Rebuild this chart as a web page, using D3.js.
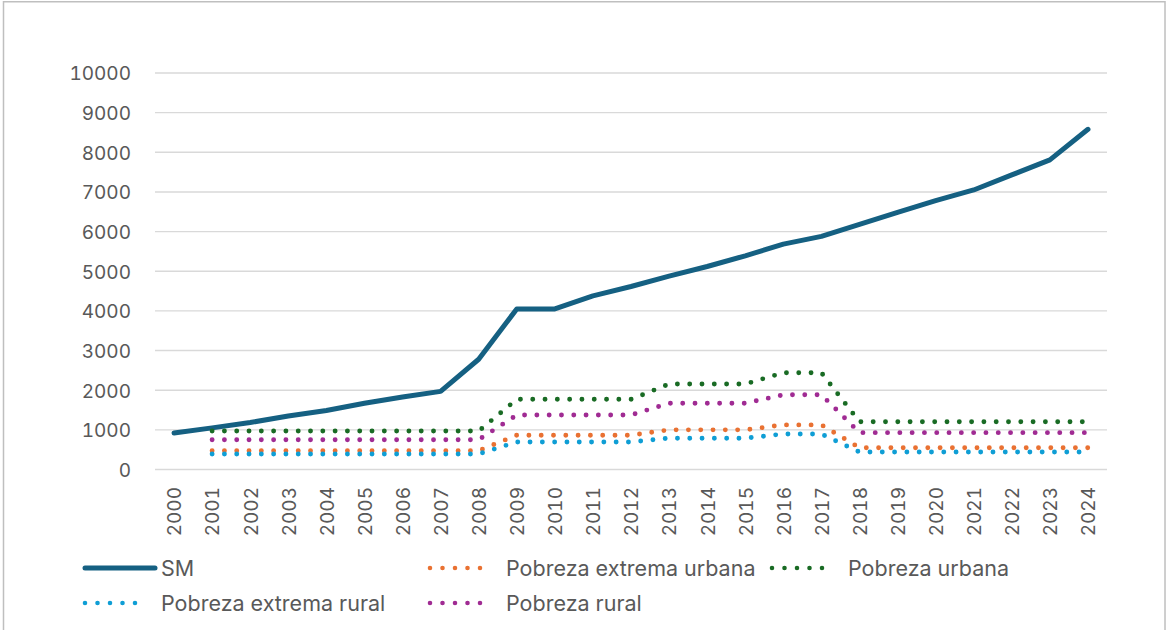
<!DOCTYPE html>
<html>
<head>
<meta charset="utf-8">
<script src="https://cdn.jsdelivr.net/npm/d3@7"></script>
<style>
  html, body { margin: 0; padding: 0; background: #ffffff; }
  svg { display: block; }
</style>
</head>
<body>
<svg id="chart" width="1169" height="630"></svg>
<script>
// Years on the category axis
const years = ["2000","2001","2002","2003","2004","2005","2006","2007","2008","2009","2010","2011","2012",
               "2013","2014","2015","2016","2017","2018","2019","2020","2021","2022","2023","2024"];

// Value-axis tick labels
const yTicks = [0, 1000, 2000, 3000, 4000, 5000, 6000, 7000, 8000, 9000, 10000];

// Salario mínimo (SM)
const sm = [920, 1050, 1185, 1350, 1490, 1670, 1830, 1970, 2780, 4050, 4050, 4380, 4615,
            4875, 5120, 5390, 5685, 5880, 6180, 6485, 6780, 7050, 7430, 7810, 8580];

// Poverty lines (no value for 2000)
const pobrezaExtremaUrbana = [null, 475, 475, 475, 475, 475, 475, 475, 475, 865, 865, 865, 865,
                              1000, 1000, 1000, 1125, 1125, 550, 550, 550, 550, 550, 550, 550];
const pobrezaUrbana        = [null, 970, 970, 970, 970, 970, 970, 970, 970, 1770, 1770, 1770, 1770,
                              2155, 2155, 2155, 2440, 2440, 1205, 1205, 1205, 1205, 1205, 1205, 1205];
const pobrezaExtremaRural  = [null, 390, 390, 390, 390, 390, 390, 390, 390, 695, 695, 695, 695,
                              790, 790, 790, 895, 895, 440, 440, 440, 440, 440, 440, 440];
const pobrezaRural         = [null, 750, 750, 750, 750, 750, 750, 750, 750, 1375, 1375, 1375, 1375,
                              1670, 1670, 1670, 1885, 1885, 930, 930, 930, 930, 930, 930, 930];

const seriesNames  = ["SM", "Pobreza extrema urbana", "Pobreza urbana", "Pobreza extrema rural", "Pobreza rural"];
const seriesColors = ["#156082", "#E97132", "#196B24", "#0F9ED5", "#A02B93"];

const series = [sm, pobrezaExtremaUrbana, pobrezaUrbana, pobrezaExtremaRural, pobrezaRural]
  .map((values, i) => ({ name: seriesNames[i], color: seriesColors[i], dotted: i > 0, values }));

const svg = d3.select("#chart");
const textColor = "#595959";
const gridColor = "#d9d9d9";
const fontStack = "Inter, 'Liberation Sans', Arial, sans-serif";

// Outer frame of the chart area
svg.append("rect")
  .attr("x", 3.5).attr("y", 1.75)
  .attr("width", 1161.5).attr("height", 700)
  .attr("fill", "none")
  .attr("stroke", "#bfbfbf")
  .attr("stroke-width", 1.5);

const plot = { left: 155, right: 1107, top: 73, bottom: 469.5 };

const x = d3.scalePoint().domain(years).range([plot.left, plot.right]).padding(0.5);
const y = d3.scaleLinear().domain([0, 10000]).range([plot.bottom, plot.top]);

// Horizontal gridlines
svg.append("g")
  .selectAll("line")
  .data(yTicks)
  .join("line")
  .attr("x1", plot.left).attr("x2", plot.right)
  .attr("y1", d => y(d)).attr("y2", d => y(d))
  .attr("stroke", gridColor)
  .attr("stroke-width", 1.4);

// Value axis labels
const yAxis = d3.axisLeft(y).tickValues(yTicks).tickSize(0).tickPadding(0).tickFormat(d3.format("d"));
const gy = svg.append("g").attr("transform", `translate(${131},0)`).call(yAxis);
gy.select(".domain").remove();
gy.selectAll("text")
  .attr("fill", textColor)
  .attr("font-family", fontStack)
  .style("font-feature-settings", "'tnum'")
  .attr("font-size", "19px")
  .attr("dy", "0.36em");

// Category axis labels, rotated
const xAxis = d3.axisBottom(x).tickSize(0).tickPadding(0);
const gx = svg.append("g").attr("transform", `translate(0,${487})`).call(xAxis);
gx.select(".domain").remove();
gx.selectAll("text")
  .attr("fill", textColor)
  .attr("font-family", fontStack)
  .style("font-feature-settings", "'tnum'")
  .attr("font-size", "19px")
  .attr("text-anchor", "end")
  .attr("transform", "rotate(-90)")
  .attr("x", 0)
  .attr("y", 0)
  .attr("dy", "0.36em");

// Series lines
const line = d3.line()
  .defined(d => d.v != null)
  .x(d => x(d.year))
  .y(d => y(d.v));

const dotWidth = 4.9;
const dotGap = 12.3;

svg.append("g")
  .selectAll("path")
  .data(series)
  .join("path")
  .attr("d", s => line(s.values.map((v, i) => ({ year: years[i], v }))))
  .attr("fill", "none")
  .attr("stroke", s => s.color)
  .attr("stroke-width", s => s.dotted ? dotWidth : 5)
  .attr("stroke-linecap", "round")
  .attr("stroke-linejoin", "round")
  .attr("stroke-dasharray", s => s.dotted ? `0 ${dotGap}` : null);

// Legend
const legendItems = [
  { s: series[0], x: 85,  y: 568 },
  { s: series[1], x: 430, y: 568 },
  { s: series[2], x: 772, y: 568 },
  { s: series[3], x: 85,  y: 603 },
  { s: series[4], x: 430, y: 603 }
];

const legend = svg.append("g")
  .selectAll("g")
  .data(legendItems)
  .join("g")
  .attr("transform", d => `translate(${d.x},${d.y})`);

legend.append("line")
  .attr("x1", 0)
  .attr("x2", d => d.s.dotted ? 5 * 12.5 : 70)
  .attr("y1", 0).attr("y2", 0)
  .attr("stroke", d => d.s.color)
  .attr("stroke-width", d => d.s.dotted ? 4.6 : 5)
  .attr("stroke-linecap", "round")
  .attr("stroke-dasharray", d => d.s.dotted ? "0 12.5" : null);

legend.append("text")
  .attr("x", d => d.s.dotted ? 76 : 76)
  .attr("y", 0)
  .attr("dy", "0.36em")
  .attr("fill", textColor)
  .attr("font-family", fontStack)
  .attr("font-size", "21.5px")
  .text(d => d.s.name);
</script>
</body>
</html>
